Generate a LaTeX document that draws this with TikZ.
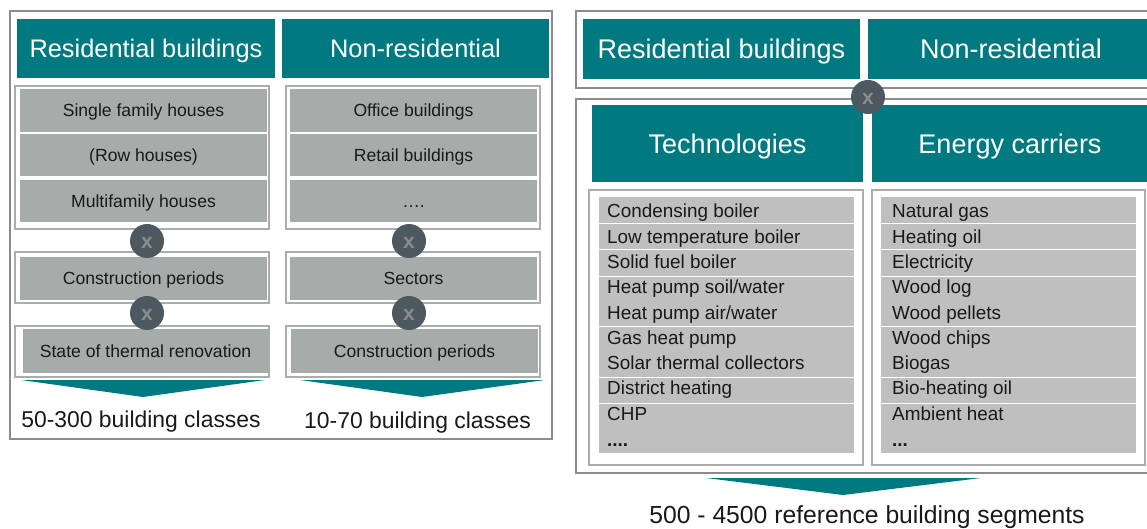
\documentclass[tikz,border=0pt]{standalone}
\usepackage{fontspec}
\setmainfont{Liberation Sans}
\usetikzlibrary{positioning}
\definecolor{segteal}{RGB}{0,122,128}
\definecolor{itemgray}{RGB}{166,172,170}
\definecolor{listgray}{RGB}{191,191,191}
\definecolor{framegray}{RGB}{140,140,140}
\definecolor{groupgray}{RGB}{172,172,172}
\definecolor{crossfill}{RGB}{78,88,96}
\definecolor{crossx}{RGB}{140,140,140}

\tikzset{
  box/.style 2 args={anchor=north west, inner sep=0pt, outer sep=0pt,
    minimum width=#1pt, minimum height=#2pt},
  capcentre/.style={text height=#1pt, text depth=0pt},
  outerframe/.style={draw=framegray, line width=2pt},
  groupframe/.style={draw=groupgray, line width=2.5pt, fill=white},
  head/.style={fill=segteal, text=white, capcentre=18.3, font=\fontsize{25.4}{30}\selectfont},
  bighead/.style={fill=segteal, text=white, capcentre=19.4, font=\fontsize{27}{32}\selectfont},
  item/.style={fill=itemgray, text=black!90, capcentre=12.7, font=\fontsize{17.6}{21}\selectfont},
  band/.style={fill=listgray},
  row/.style={anchor=west, inner sep=0pt, capcentre=13.5, text=black!90,
    font=\fontsize{18.9}{22}\selectfont},
  cross/.style={circle, fill=crossfill, text=crossx, minimum size=34pt,
    inner sep=0pt, capcentre=15, font=\bfseries\fontsize{21}{21}\selectfont},
  result/.style={capcentre=16.5, text=black!90, font=\fontsize{22.9}{26}\selectfont}
}

\begin{document}
\begin{tikzpicture}[x=1pt, y=-1pt]
  \useasboundingbox (0,0) rectangle (1147,529);

  % left block: building classes
  \node[outerframe, box={542}{428}] (leftframe) at (10,11) {};
  \node[head, box={258}{59}] (reshead) at (17,19) {Residential buildings};
  \node[head, box={267}{59}] (nonreshead) at (282,19) {Non-residential};

  \node[groupframe, box={254}{143}] (restypes) at (15,86) {};
  \node[item, box={247}{43}] (sfh) at (20,89) {Single family houses};
  \node[item, box={247}{42}] (rh) at (20,134) {(Row houses)};
  \node[item, box={247}{42}] (mfh) at (20,180) {Multifamily houses};
  \node[groupframe, box={254}{51}] (resperiodframe) at (15,252) {};
  \node[item, box={247}{43}] (resperiod) at (20,257) {Construction periods};
  \node[groupframe, box={254}{51}] (renovframe) at (15,326) {};
  \node[item, box={245}{44}] (renov) at (23,329) {State of thermal renovation};

  \node[groupframe, box={254}{143}] (nrtypes) at (286,86) {};
  \node[item, box={247}{43}] (office) at (290,89) {Office buildings};
  \node[item, box={247}{42}] (retail) at (290,134) {Retail buildings};
  \node[item, box={247}{42}] (nrmore) at (290,180) {\ldots.};
  \node[groupframe, box={254}{51}] (sectorframe) at (286,252) {};
  \node[item, box={247}{43}] (sectors) at (290,257) {Sectors};
  \node[groupframe, box={254}{51}] (nrperiodframe) at (286,326) {};
  \node[item, box={247}{44}] (nrperiod) at (291,329) {Construction periods};

  \node[cross] (cx1) at (147,241) {x};
  \node[cross] (cx2) at (147,313) {x};
  \node[cross] (cx3) at (409,241) {x};
  \node[cross] (cx4) at (409,313) {x};

  \fill[segteal] (21,380) -- (265,380) -- (143,397) -- cycle;
  \fill[segteal] (300,380) -- (545,380) -- (422,397) -- cycle;
  \node[result] (resclasses) at (141,419) {50-300 building classes};
  \node[result] (nrclasses) at (417.5,420) {10-70 building classes};

  % right block: reference building segments
  \node[outerframe, box={590}{77}] (typeframe) at (576,11) {};
  \node[bighead, box={277}{60}] (reshead2) at (583,19) {Residential buildings};
  \node[bighead, box={286}{60}] (nonreshead2) at (868,19) {Non-residential};

  \node[outerframe, box={590}{374}] (systemframe) at (576,99) {};
  \node[bighead, box={271}{77}] (techhead) at (592,105) {Technologies};
  \node[bighead, box={276}{77}] (carrierhead) at (872,105) {Energy carriers};
  \node[cross] (cx5) at (868,97) {x};

  \node[groupframe, box={274}{275}] (techframe) at (589,190) {};
  \node[groupframe, box={273}{275}] (carrierframe) at (872,190) {};

  \foreach \ytop/\hgt [count=\i] in {197/26, 224/25, 250/26, 277/49, 327/50, 378/25, 404/49} {
    \node[band, box={255}{\hgt}] (techband\i) at (599,\ytop) {};
    \node[band, box={255}{\hgt}] (carrierband\i) at (881,\ytop) {};
  }

  \foreach \yrow/\txt [count=\i] in {211/Condensing boiler, 237/Low temperature boiler,
      262/Solid fuel boiler, 287/{Heat pump soil/water}, 313/{Heat pump air/water},
      338/Gas heat pump, 363/Solar thermal collectors, 388/District heating,
      414/CHP, 440/\textbf{....}}
    \node[row] (tech\i) at (607,\yrow) {\txt};

  \foreach \yrow/\txt [count=\i] in {211/Natural gas, 237/Heating oil,
      262/Electricity, 287/Wood log, 313/Wood pellets,
      338/Wood chips, 363/Biogas, 388/Bio-heating oil,
      414/Ambient heat, 440/\textbf{...}}
    \node[row] (carrier\i) at (892,\yrow) {\txt};

  \fill[segteal] (706,478) -- (981,478) -- (843,495) -- cycle;
  \node[result, capcentre=17.8, font=\fontsize{24.7}{28}\selectfont] (segments) at (867,515)
    {500 - 4500 reference building segments};
\end{tikzpicture}
\end{document}
